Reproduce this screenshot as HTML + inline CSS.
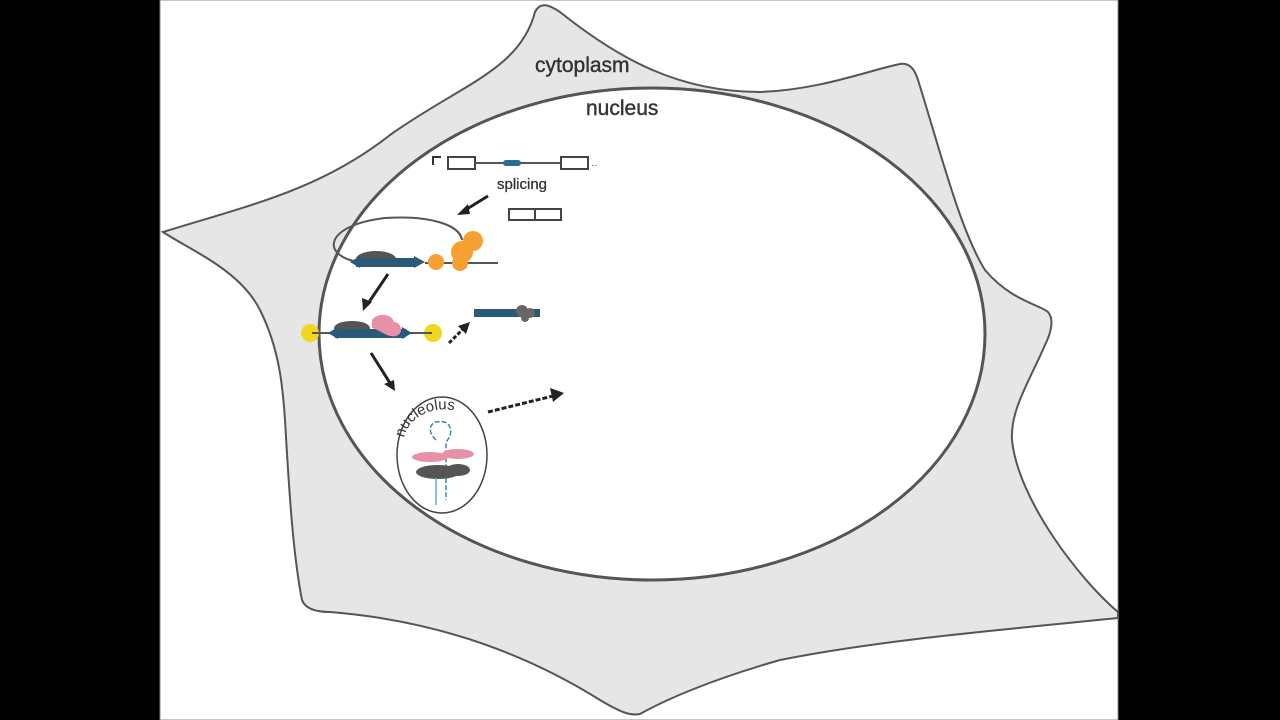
<!DOCTYPE html>
<html><head><meta charset="utf-8"><style>
html,body{margin:0;padding:0;background:#000;}
svg{display:block}
</style></head><body>
<svg width="1280" height="720" viewBox="0 0 1280 720" xmlns="http://www.w3.org/2000/svg" font-family="Liberation Sans, sans-serif">
<rect x="0" y="0" width="1280" height="720" fill="#000"/>
<rect x="160" y="0" width="958" height="720" fill="#fff" stroke="#888" stroke-width="1"/>
<path d="M163,232 C250,205 320,190 390,135 C460,85 520,70 535,12 C540,2 548,4 560,12 C620,60 680,92 760,92 C820,90 870,70 900,64 C910,62 915,70 918,80 C940,150 960,230 985,270 C1010,300 1040,305 1048,312 C1055,320 1050,335 1045,345 C1030,380 1010,410 1012,440 C1018,500 1080,580 1118,612 L1118,618 C1000,630 880,640 780,660 C710,680 665,700 640,714 C630,716 620,712 600,700 C520,650 430,620 330,612 C315,612 305,608 302,600 C292,550 288,470 285,420 C283,390 280,350 260,310 C240,270 190,250 163,232 Z" fill="#e6e6e6" stroke="#555" stroke-width="2"/>
<ellipse cx="652" cy="334" rx="333" ry="246" fill="#fff" stroke="#555" stroke-width="3"/>
<text x="535" y="72" font-size="21" fill="#333" stroke="#333" stroke-width="0.4">cytoplasm</text>
<text x="586" y="115" font-size="21" fill="#333" stroke="#333" stroke-width="0.4">nucleus</text>
<path d="M433,165 L433,157 L441,157" fill="none" stroke="#333" stroke-width="2"/>
<rect x="448" y="157" width="27" height="12" fill="#fff" stroke="#444" stroke-width="2"/>
<line x1="475" y1="163" x2="561" y2="163" stroke="#555" stroke-width="2"/>
<rect x="503" y="160" width="18" height="6" rx="3" fill="#2a6a8a"/>
<rect x="561" y="157" width="27" height="12" fill="#fff" stroke="#444" stroke-width="2"/>
<text x="591" y="168" font-size="10" fill="#444">··</text>
<text x="497" y="189" font-size="15" fill="#333" stroke="#333" stroke-width="0.3">splicing</text>
<line x1="488" y1="196" x2="462" y2="212" stroke="#222" stroke-width="3"/>
<polygon points="457,215 468,204 470,214" fill="#222"/>
<rect x="509" y="209" width="26" height="11" fill="#fff" stroke="#444" stroke-width="2"/>
<rect x="535" y="209" width="26" height="11" fill="#fff" stroke="#444" stroke-width="2"/>
<path d="M358,262 C320,255 325,225 385,218 C430,215 460,225 462,240" fill="none" stroke="#555" stroke-width="2"/>
<ellipse cx="376" cy="259" rx="20" ry="8" fill="#555"/>
<rect x="356" y="258" width="60" height="9" fill="#2a5a78"/>
<polygon points="350,262 360,256 360,268" fill="#2a5a78"/>
<polygon points="425,262 414,256 414,268" fill="#2a5a78"/>
<line x1="425" y1="263" x2="498" y2="263" stroke="#555" stroke-width="2"/>
<circle cx="436" cy="262" r="8" fill="#f5a030"/>
<circle cx="462" cy="252" r="11" fill="#f5a030"/>
<circle cx="473" cy="241" r="10" fill="#f5a030"/>
<circle cx="460" cy="263" r="8" fill="#f5a030"/>
<line x1="388" y1="274" x2="367" y2="305" stroke="#222" stroke-width="3"/>
<polygon points="363,311 362,298 372,302" fill="#222"/>
<circle cx="310" cy="333" r="9" fill="#f0d820"/>
<circle cx="433" cy="333" r="9" fill="#f0d820"/>
<line x1="312" y1="333" x2="432" y2="333" stroke="#555" stroke-width="2"/>
<ellipse cx="352" cy="328" rx="18" ry="7" fill="#555"/>
<rect x="335" y="329" width="70" height="9" fill="#2a5a78"/>
<polygon points="328,333 338,327 338,339" fill="#2a5a78"/>
<polygon points="412,333 402,327 402,339" fill="#2a5a78"/>
<path d="M372,320 C378,312 392,314 394,322 C402,322 404,334 396,336 C388,338 380,330 372,328 Z" fill="#e890a8"/>
<line x1="449" y1="343" x2="464" y2="328" stroke="#222" stroke-width="3" stroke-dasharray="4,2"/>
<polygon points="470,322 458,326 466,334" fill="#222"/>
<rect x="474" y="309" width="66" height="8" fill="#2a5a78"/>
<circle cx="522" cy="311" r="6" fill="#666"/><circle cx="530" cy="313" r="5" fill="#666"/><circle cx="525" cy="318" r="4" fill="#666"/>
<line x1="371" y1="353" x2="390" y2="383" stroke="#222" stroke-width="3"/>
<polygon points="395,391 384,384 394,380" fill="#222"/>
<ellipse cx="442" cy="455" rx="45" ry="58" fill="#fff" stroke="#444" stroke-width="1.5"/>
<defs><path id="arc" d="M404,438 C410,405 470,395 482,438"/></defs>
<text font-size="15" fill="#333"><textPath href="#arc">nucleolus</textPath></text>
<path d="M436,440 C425,430 432,420 440,422 C450,420 455,432 446,442 L446,500" fill="none" stroke="#3a8aa0" stroke-width="1.5" stroke-dasharray="5,2"/>
<ellipse cx="430" cy="457" rx="18" ry="5" fill="#e890a8"/>
<ellipse cx="458" cy="454" rx="16" ry="5" fill="#e890a8"/>
<ellipse cx="438" cy="472" rx="22" ry="7" fill="#555"/>
<ellipse cx="458" cy="470" rx="12" ry="6" fill="#555"/>
<line x1="436" y1="478" x2="436" y2="505" stroke="#5ab0d0" stroke-width="1.5"/>
<line x1="488" y1="412" x2="553" y2="396" stroke="#222" stroke-width="3" stroke-dasharray="5,2"/>
<polygon points="564,393 550,388 553,402" fill="#222"/>
</svg>
</body></html>
